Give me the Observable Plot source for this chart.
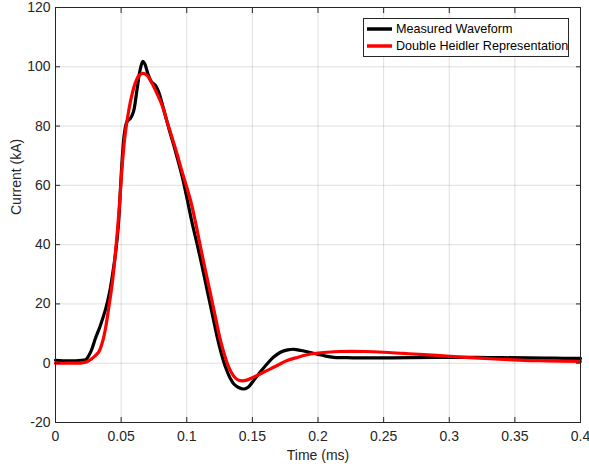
<!DOCTYPE html>
<html>
<head>
<meta charset="utf-8">
<script src="https://cdn.jsdelivr.net/npm/d3@7"></script>
<script src="https://cdn.jsdelivr.net/npm/@observablehq/plot@0.6"></script>
<style>
  html, body { margin: 0; padding: 0; background: #fff; }
  #chart { width: 589px; height: 473px; }
</style>
</head>
<body>
<div id="chart"></div>
<script>
// ---- data ----
const xTicks = [0, 0.05, 0.1, 0.15, 0.2, 0.25, 0.3, 0.35, 0.4];
const yTicks = [-20, 0, 20, 40, 60, 80, 100, 120];
const seriesNames = ["Measured Waveform", "Double Heidler Representation"];
const seriesColors = ["#000000", "#ff0000"];

const measuredTime = [0, 0.01, 0.02, 0.023, 0.027, 0.0305, 0.034, 0.038, 0.041, 0.0435, 0.046, 0.048, 0.0495, 0.051, 0.0525, 0.0545, 0.057, 0.0595, 0.062, 0.0645, 0.0665, 0.068, 0.0705, 0.073, 0.0765, 0.079, 0.0825, 0.0865, 0.0914, 0.0965, 0.1, 0.104, 0.108, 0.1118, 0.1156, 0.1195, 0.1232, 0.1265, 0.1295, 0.133, 0.1359, 0.1395, 0.1435, 0.147, 0.151, 0.156, 0.1613, 0.166, 0.1714, 0.177, 0.1816, 0.187, 0.1943, 0.2, 0.206, 0.212, 0.22, 0.23, 0.25, 0.27, 0.3, 0.33, 0.36, 0.38, 0.4];
const measuredCurrent = [1.0, 0.8, 1.0, 1.2, 4, 8.5, 12.5, 18, 23.5, 30, 38, 47, 59, 70, 77.5, 81.5, 82.5, 85, 92, 99, 101.8, 101, 97.5, 95, 93.5, 91, 85.5, 79, 71.5, 63, 56, 47.5, 40, 32.5, 24.5, 16.5, 8.8, 3, -1.3, -5, -7, -8.2, -8.7, -8, -5.8, -3, -0.2, 2, 3.7, 4.5, 4.7, 4.3, 3.6, 3.0, 2.4, 2.0, 1.9, 1.8, 1.8, 1.9, 2.0, 1.9, 1.8, 1.7, 1.6];

const modelTime = [0, 0.01, 0.02, 0.024, 0.027, 0.03, 0.033, 0.036, 0.038, 0.0405, 0.0432, 0.045, 0.047, 0.049, 0.0508, 0.053, 0.0559, 0.0585, 0.061, 0.0635, 0.0665, 0.0695, 0.0737, 0.0775, 0.0813, 0.085, 0.0889, 0.0927, 0.0965, 0.1029, 0.1067, 0.1105, 0.1143, 0.1181, 0.122, 0.1257, 0.129, 0.132, 0.1355, 0.1385, 0.141, 0.145, 0.151, 0.157, 0.1638, 0.17, 0.1765, 0.183, 0.189, 0.1943, 0.2, 0.207, 0.217, 0.225, 0.235, 0.25, 0.265, 0.2806, 0.301, 0.315, 0.331, 0.345, 0.357, 0.375, 0.4];
const modelCurrent = [0, 0, 0.1, 0.5, 1.3, 2.4, 3.8, 7.5, 11.5, 18.5, 26.8, 34, 43.7, 55, 66.5, 77, 85.5, 91, 94.8, 97, 97.8, 97.2, 94.3, 90.8, 86.9, 81.5, 76, 70.5, 64.5, 54.9, 47.5, 39.2, 31.2, 23.4, 15.2, 7.7, 2.5, -1.3, -4.2, -5.5, -5.9, -5.8, -4.7, -3.4, -1.9, -0.5, 0.9, 1.8, 2.6, 3.1, 3.4, 3.7, 3.95, 4.0, 3.95, 3.7, 3.3, 2.9, 2.3, 1.9, 1.5, 1.2, 0.95, 0.8, 0.6];

const measured = measuredTime.map((t, i) => ({t, v: measuredCurrent[i]}));
const model = modelTime.map((t, i) => ({t, v: modelCurrent[i]}));

const fmt = d => String(+(+d).toFixed(2));
const blank = () => "";
const axisColor = "#262626";
const font = "'Liberation Sans', Arial, Helvetica, sans-serif";

function legendMark(index, scales, values, dims) {
  const right = dims.width - dims.marginRight;
  const top = dims.marginTop;
  const g = d3.create("svg:g");
  const bx = right - 217, by = top + 11, bw = 205, bh = 38;
  g.append("rect").attr("x", bx + 0.5).attr("y", by + 0.5).attr("width", bw).attr("height", bh)
    .attr("fill", "white").attr("stroke", axisColor).attr("stroke-width", 1);
  seriesNames.forEach((name, i) => {
    const y = by + 11 + i * 17;
    g.append("line").attr("x1", bx + 4).attr("x2", bx + 29).attr("y1", y).attr("y2", y)
      .attr("stroke", seriesColors[i]).attr("stroke-width", 3.5);
    g.append("text").attr("x", bx + 33).attr("y", y).attr("dy", "0.35em")
      .attr("text-anchor", "start").style("text-anchor", "start")
      .attr("fill", "#000").style("font-size", "12.6px").style("font-family", font).text(name);
  });
  return g.node();
}

const chart = Plot.plot({
  width: 589,
  height: 473,
  marginLeft: 55,
  marginRight: 9,
  marginTop: 7,
  marginBottom: 51,
  style: {fontFamily: font, fontSize: "14px", color: axisColor, background: "white", overflow: "visible"},
  x: {domain: [0, 0.4]},
  y: {domain: [-20, 120]},
  marks: [
    Plot.gridX(xTicks, {stroke: axisColor, strokeOpacity: 0.15}),
    Plot.gridY(yTicks, {stroke: axisColor, strokeOpacity: 0.15}),
    Plot.line(measured, {x: "t", y: "v", stroke: seriesColors[0], strokeWidth: 3.2, curve: "catmull-rom"}),
    Plot.line(model, {x: "t", y: "v", stroke: seriesColors[1], strokeWidth: 3.2, curve: "catmull-rom"}),
    // inward tick marks on all four sides
    Plot.axisX(xTicks, {anchor: "bottom", tickSize: 5, dy: -5, tickFormat: blank, label: null, stroke: axisColor}),
    Plot.axisX(xTicks, {anchor: "top", tickSize: 5, dy: 5, tickFormat: blank, label: null, stroke: axisColor}),
    Plot.axisY(yTicks, {anchor: "left", tickSize: 5, dx: 5, tickFormat: blank, label: null, stroke: axisColor}),
    Plot.axisY(yTicks, {anchor: "right", tickSize: 5, dx: -5, tickFormat: blank, label: null, stroke: axisColor}),
    // tick labels
    Plot.axisX(xTicks, {anchor: "bottom", tickSize: 0, tickPadding: 9, tickFormat: fmt, label: null, fill: axisColor}),
    Plot.axisY(yTicks, {anchor: "left", tickSize: 0, tickPadding: 5, tickFormat: fmt, label: null, fill: axisColor}),
    Plot.frame({stroke: axisColor}),
    Plot.text(["Time (ms)"], {frameAnchor: "bottom", dy: 37, text: d => d, fill: axisColor, fontSize: 14}),
    Plot.text(["Current (kA)"], {frameAnchor: "left", dx: -39, rotate: -90, text: d => d, fill: axisColor, fontSize: 14}),
    legendMark
  ]
});
document.getElementById("chart").appendChild(chart);
</script>
</body>
</html>
